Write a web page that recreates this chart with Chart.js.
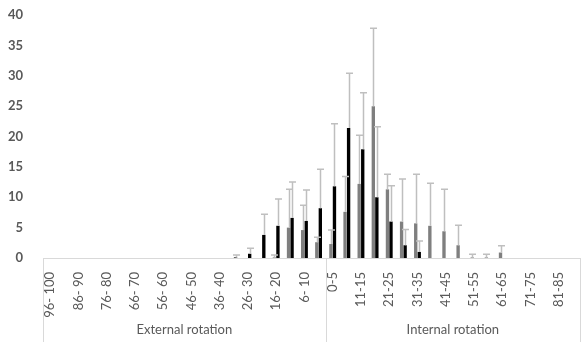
<!DOCTYPE html>
<html>
<head>
<meta charset="utf-8">
<script src="https://cdn.jsdelivr.net/npm/chart.js@4"></script>
<style>
  html, body { margin: 0; padding: 0; background: #ffffff; }
  #wrap { width: 583px; height: 342px; }
</style>
</head>
<body>
<div id="wrap"><canvas id="c" width="583" height="342"></canvas></div>
<script>
// ---- data ----
const externalLabels = ["96- 100","91- 95","86- 90","81- 85","76- 80","71- 75","66- 70","61- 65","56- 60","51- 55","46- 50","41- 45","36- 40","31- 35","26- 30","21- 25","16- 20","11- 15","6- 10","1- 5"];
const internalLabels = ["0-5","6-10","11-15","16-20","21-25","26-30","31-35","36-40","41-45","46-50","51-55","56-60","61-65","66-70","71-75","76-80","81-85","86-90"];
const groupNames = ["External rotation", "Internal rotation"];
const categories = externalLabels.concat(internalLabels);

const greyValues = [0,0,0,0,0,0,0,0,0,0,0,0,0,0,0,0,0.1,5.0,4.6,2.6,
                    2.3,7.6,12.2,25.0,11.3,6.0,5.7,5.3,4.4,2.1,0.1,0.1,0.9,0,0,0,0,0];
const greyErrors = [0,0,0,0,0,0,0,0,0,0,0,0,0,0,0,0,0.4,6.3,4.1,0.8,
                    2.3,5.8,8.0,12.8,2.5,7.0,8.1,7.0,6.9,3.3,0.5,0.5,1.1,0,0,0,0,0];
const blackValues = [0,0,0,0,0,0,0,0,0,0,0,0,0,0.1,0.7,3.8,5.3,6.6,6.1,8.2,
                     11.8,21.4,17.9,10.0,6.0,2.1,1.0,0,0,0,0,0,0,0,0,0,0,0];
const blackErrors = [0,0,0,0,0,0,0,0,0,0,0,0,0,0.4,0.9,3.4,4.4,5.9,5.1,6.4,
                     10.3,9.0,9.3,11.6,5.9,2.6,1.8,0,0,0,0,0,0,0,0,0,0,0];
const yTicks = {min: 0, max: 40, step: 5};

const textColor = '#595959';
const lineColor = '#d9d9d9';

const errorBarPlugin = {
  id: 'errorBars',
  afterDatasetsDraw(chart) {
    const ctx = chart.ctx;
    const y = chart.scales.y;
    const errs = [greyErrors, blackErrors];
    ctx.save();
    ctx.strokeStyle = '#bfbfbf';
    ctx.lineWidth = 1.5;
    chart.data.datasets.forEach((ds, d) => {
      const meta = chart.getDatasetMeta(d);
      meta.data.forEach((bar, i) => {
        const e = errs[d][i];
        const v = ds.data[i];
        if (!e) return;
        const x = Math.round(bar.x) + 0.5;
        const y0 = y.getPixelForValue(v);
        const y1 = y.getPixelForValue(v + e);
        ctx.beginPath();
        ctx.moveTo(x, y0);
        ctx.lineTo(x, y1);
        ctx.moveTo(x - 3.5, y1);
        ctx.lineTo(x + 3.5, y1);
        ctx.stroke();
      });
    });
    ctx.restore();
  }
};

const groupPlugin = {
  id: 'groups',
  afterDraw(chart) {
    const ctx = chart.ctx;
    const xs = chart.scales.x;
    const area = chart.chartArea;
    const n = categories.length;
    const half = (xs.getPixelForValue(1) - xs.getPixelForValue(0)) / 2;
    const left = xs.getPixelForValue(0) - half;
    const right = xs.getPixelForValue(n - 1) + half;
    const split = (xs.getPixelForValue(externalLabels.length - 1) + xs.getPixelForValue(externalLabels.length)) / 2;
    ctx.save();
    ctx.strokeStyle = lineColor;
    ctx.lineWidth = 1;
    [left, split, right].forEach(px => {
      const x = Math.round(px) + 0.5;
      ctx.beginPath();
      ctx.moveTo(x, area.bottom);
      ctx.lineTo(x, chart.height);
      ctx.stroke();
    });
    ctx.fillStyle = textColor;
    ctx.font = '13px Lato';
    ctx.textAlign = 'center';
    ctx.textBaseline = 'middle';
    ctx.fillText(groupNames[0], (left + split) / 2, 330);
    ctx.fillText(groupNames[1], (split + right) / 2, 330);
    ctx.restore();
  }
};

new Chart(document.getElementById('c'), {
  type: 'bar',
  data: {
    labels: categories,
    datasets: [
      { data: greyValues, backgroundColor: '#7f7f7f', categoryPercentage: 0.5, barPercentage: 0.95 },
      { data: blackValues, backgroundColor: '#000000', categoryPercentage: 0.5, barPercentage: 0.95 }
    ]
  },
  options: {
    responsive: false,
    devicePixelRatio: 1,
    animation: false,
    layout: { padding: { top: 15, right: 3, left: 0, bottom: 0 } },
    plugins: { legend: { display: false }, tooltip: { enabled: false } },
    scales: {
      x: {
        grid: { display: false },
        border: { display: true, color: lineColor, width: 1 },
        afterFit(scale) { scale.height = 84; scale.paddingLeft = 0; scale.paddingRight = 0; },
        ticks: {
          autoSkip: false,
          minRotation: 90,
          maxRotation: 90,
          padding: 6,
          color: textColor,
          font: { family: 'Lato', size: 13 },
          callback(v, i) { return i % 2 === 0 ? categories[i] : ''; }
        }
      },
      y: {
        min: yTicks.min,
        max: yTicks.max,
        grid: { display: false },
        border: { display: false },
        afterFit(scale) { scale.width = 43; scale.paddingTop = 0; scale.paddingBottom = 0; },
        ticks: {
          stepSize: yTicks.step,
          padding: 12,
          color: textColor,
          font: { family: 'Lato', size: 13, weight: 'bold' }
        }
      }
    }
  },
  plugins: [errorBarPlugin, groupPlugin]
});
</script>
</body>
</html>
